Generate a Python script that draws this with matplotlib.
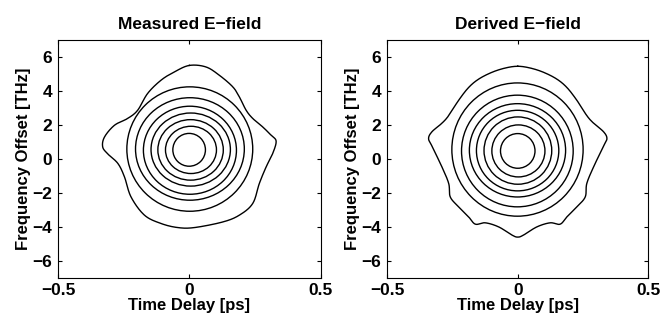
#!/usr/bin/env python3
"""
Contour maps of the measured and derived E-field,
time delay vs frequency offset.
"""

import numpy as np
from matplotlib import pyplot as plt
from matplotlib.patches import Ellipse

plt.rcParams["font.family"] = ["Liberation Sans", "DejaVu Sans"]
plt.rcParams["font.weight"] = "bold"

# Inner contours, outermost first: extents in time [ps] and frequency [THz]
meas_left   = [-0.238, -0.205, -0.175, -0.146, -0.120, -0.091, -0.063]
meas_right  = [ 0.241,  0.209,  0.179,  0.156,  0.129,  0.103,  0.061]
meas_bottom = [-3.08, -2.43, -2.08, -1.60, -1.25, -0.86, -0.43]
meas_top    = [ 4.24,  3.60,  3.10,  2.70,  2.31,  1.92,  1.50]

der_left   = [-0.252, -0.215, -0.185, -0.158, -0.129, -0.099, -0.066]
der_right  = [ 0.250,  0.212,  0.183,  0.157,  0.130,  0.104,  0.066]
der_bottom = [-3.37, -2.82, -2.24, -1.88, -1.49, -1.06, -0.55]
der_top    = [ 4.47,  3.75,  3.25,  2.86,  2.47,  2.00,  1.49]

# Outermost contour, traced counter-clockwise from the top
meas_outer_t = [0.000, -0.057, -0.108, -0.159, -0.197, -0.235, -0.285, -0.323,
                -0.330, -0.311, -0.272, -0.247, -0.222, -0.171, -0.108, -0.044,
                0.019, 0.127, 0.190, 0.241, 0.266, 0.292, 0.317, 0.330,
                0.311, 0.279, 0.241, 0.216, 0.190, 0.165, 0.114, 0.063]
meas_outer_f = [5.50, 5.12, 4.63, 3.85, 2.86, 2.38, 1.98, 1.29,
                0.71, 0.30, -0.27, -1.06, -2.24, -3.31, -3.80, -4.04,
                -4.04, -3.71, -3.31, -2.62, -1.45, -0.47, 0.32, 1.04,
                1.39, 1.88, 2.38, 2.86, 3.65, 4.24, 4.92, 5.41]

der_outer_t = [0.000, -0.047, -0.098, -0.149, -0.188, -0.226, -0.264, -0.290,
               -0.328, -0.341, -0.328, -0.290, -0.264, -0.258, -0.226, -0.188,
               -0.162, -0.124, -0.073, -0.021, 0.000, 0.021, 0.073, 0.124,
               0.162, 0.188, 0.226, 0.258, 0.264, 0.290, 0.328, 0.341,
               0.328, 0.290, 0.264, 0.226, 0.188, 0.149, 0.098, 0.047]
der_outer_f = [5.45, 5.35, 5.10, 4.70, 4.20, 3.45, 2.55, 2.10,
               1.60, 1.20, 0.75, -0.47, -1.45, -2.24, -2.82, -3.41,
               -3.84, -3.76, -4.00, -4.49, -4.60, -4.49, -4.00, -3.76,
               -3.84, -3.41, -2.82, -2.24, -1.45, -0.47, 0.75, 1.20,
               1.60, 2.10, 2.55, 3.45, 4.20, 4.70, 5.10, 5.35]


def closed_curve(x, y, n=24):
    """Periodic Catmull-Rom spline through the given points."""
    p = np.column_stack([x, y])
    m = len(p)
    s = np.linspace(0, 1, n, endpoint=False)[:, None]
    out = []
    for i in range(m):
        p0, p1, p2, p3 = p[i - 1], p[i], p[(i + 1) % m], p[(i + 2) % m]
        out.append(0.5 * ((2 * p1) + (-p0 + p2) * s
                          + (2 * p0 - 5 * p1 + 4 * p2 - p3) * s ** 2
                          + (-p0 + 3 * p1 - 3 * p2 + p3) * s ** 3))
    out = np.vstack(out + [p[:1]])
    return out[:, 0], out[:, 1]


def draw_panel(ax, title, left, right, bottom, top, outer_t, outer_f):
    ox, oy = closed_curve(outer_t, outer_f)
    ax.plot(ox, oy, c="black", lw=1.0)
    for l, r, b, t in zip(left, right, bottom, top):
        ax.add_patch(Ellipse(((l + r) / 2, (b + t) / 2), r - l, t - b,
                             fill=False, ec="black", lw=1.0))

    ax.set_xlim(-0.5, 0.5)
    ax.set_ylim(-7, 7)
    ax.set_xticks([-0.5, 0, 0.5])
    ax.set_xticklabels(["\u22120.5", "0", "0.5"])
    ax.set_yticks(range(-6, 7, 2))
    ax.tick_params(direction="in", top=True, right=True, length=3,
                   width=0.8, labelsize=12.5, pad=4)
    for sp in ax.spines.values():
        sp.set_linewidth(0.8)

    ax.set_title(title, fontsize=12.5, fontweight="bold", pad=8)
    ax.set_xlabel("Time Delay [ps]", fontsize=12, fontweight="bold", labelpad=0)
    ax.set_ylabel("Frequency Offset [THz]", fontsize=12, fontweight="bold",
                  labelpad=1)


fig = plt.figure(figsize=(6.62, 3.22), dpi=100)
ax1 = fig.add_axes([0.0876, 0.137, 0.397, 0.739])
ax2 = fig.add_axes([0.5846, 0.137, 0.395, 0.739])

draw_panel(ax1, "Measured E\u2212field", meas_left, meas_right, meas_bottom,
           meas_top, meas_outer_t, meas_outer_f)
draw_panel(ax2, "Derived E\u2212field", der_left, der_right, der_bottom,
           der_top, der_outer_t, der_outer_f)

plt.savefig("out.png", dpi=100)
plt.close()
